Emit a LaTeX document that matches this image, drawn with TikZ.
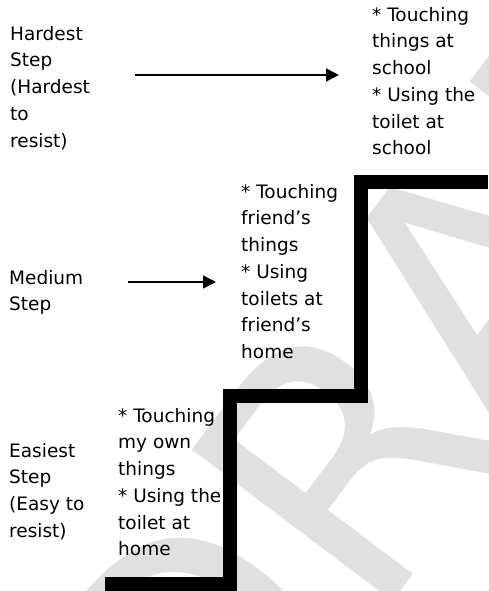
\documentclass[tikz,border=0pt]{standalone}
\usepackage{fontspec}
\setmainfont{DejaVu Sans}
\usepackage{tikz}
\usetikzlibrary{arrows.meta}
\usetikzlibrary{positioning}

\begin{document}
\begin{tikzpicture}[x=1pt,y=-1pt,line join=miter,
  steptext/.style={anchor=north west,inner sep=0pt,align=left,font=\fontsize{18.5}{26.7}\selectfont},
  stairline/.style={line width=14pt,color=black},
  pointer/.style={-{Triangle[length=13pt,width=13pt]},line width=1.5pt}]
\useasboundingbox (0,0) rectangle (488,591);
\begin{scope}
\clip (0,0) rectangle (488,591);
% watermark
\node[rotate=53,text=black!12,font=\fontsize{345}{345}\selectfont] (mark) at (452,314) {DRAFT};
\end{scope}
% stairs
\draw[stairline] (105,584) -- (230,584) -- (230,396) -- (361,396) -- (361,182) -- (488,182);
% labels on the left
\node[steptext] (hardlabel) at (10,26) {Hardest\\Step\\(Hardest\\to\\resist)};
\node[steptext] (medlabel) at (9,270) {Medium\\Step};
\node[steptext] (easylabel) at (9,443) {Easiest\\Step\\(Easy to\\resist)};
% what goes on each step
\node[steptext] (hardlist) at (372,7) {* Touching\\things at\\school\\* Using the\\toilet at\\school};
\node[steptext] (medlist) at (241,184) {* Touching\\friend’s\\things\\* Using\\toilets at\\friend’s\\home};
\node[steptext] (easylist) at (118,408) {* Touching\\my own\\things\\* Using the\\toilet at\\home};
% arrows
\coordinate (hardfrom) at (135,75);
\coordinate (hardto) at (339,75);
\coordinate (medfrom) at (128,282);
\coordinate (medto) at (216,282);
\draw[pointer] (hardfrom) -- (hardto);
\draw[pointer] (medfrom) -- (medto);
\end{tikzpicture}
\end{document}
